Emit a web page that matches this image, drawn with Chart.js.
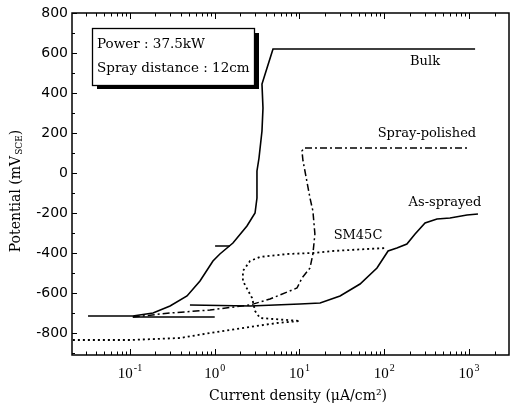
<!DOCTYPE html>
<html>
<head>
<meta charset="utf-8">
<script src="https://cdn.jsdelivr.net/npm/chart.js@4/dist/chart.umd.min.js"></script>
<style>
  html, body { margin: 0; padding: 0; background: #fff; }
  #chart { display: block; }
</style>
</head>
<body>
<canvas id="chart" width="512" height="409"></canvas>
<script>
// current density (uA/cm2) and potential (mV SCE)
const bulkI = [0.032, 0.108, 0.187, 0.297, 0.471, 0.67, 0.953, 1.15, 1.64, 2.40, 2.99, 3.15, 3.15, 3.33, 3.61, 3.71, 3.61, 4.14, 4.87, 1180];
const bulkV = [-715, -715, -700, -665, -615, -540, -440, -405, -350, -265, -200, -125, 10, 75, 210, 325, 445, 525, 620, 620];

const sprayI = [0.108, 0.297, 0.879, 2.61, 4.49, 9.35, 10.7, 13.3, 14.4, 15.2, 14.4, 13.3, 12.2, 11.6, 11.0, 10.7, 11.3, 973];
const sprayV = [-720, -700, -685, -660, -630, -575, -525, -475, -405, -305, -190, -125, -40, 10, 60, 110, 125, 125];

const asI = [0.510, 2.61, 10.1, 17.5, 30.1, 51.8, 82.1, 111, 141, 185, 231, 303, 419, 597, 947, 1276];
const asV = [-660, -665, -655, -650, -615, -555, -475, -390, -375, -355, -305, -250, -230, -225, -210, -205];

const smI = [0.0212, 0.1, 0.389, 0.879, 1.51, 2.61, 5.43, 10.1, 3.42, 2.99, 2.76, 2.15, 2.15, 2.61, 3.42, 7.13, 14.4, 24.8, 62.5, 108];
const smV = [-835, -835, -825, -800, -785, -770, -750, -740, -725, -690, -625, -540, -490, -440, -420, -405, -400, -390, -380, -375];

// stray return traces (null = gap)
const extraI = [1.0, 0.108, 1.2, 1.01, 1.51];
const extraV = [-720, -720, null, -365, -365];

const xTicks = [0.1, 1, 10, 100, 1000];
const xTickExp = ['-1', '0', '1', '2', '3'];
const yTicks = [-800, -600, -400, -200, 0, 200, 400, 600, 800];

const curveNames = ['Bulk', 'Spray-polished', 'As-sprayed', 'SM45C'];
const labelI = [303, 319, 521, 49];
const labelV = [555, 195, -150, -315];

const infoLines = ['Power : 37.5kW', 'Spray distance : 12cm'];

function pts(xs, ys) {
    return xs.map((x, i) => ({ x: x, y: ys[i] }));
}

function line(label, xs, ys, dash, width) {
    return {
        label: label,
        data: pts(xs, ys),
        showLine: true,
        borderColor: '#000',
        borderWidth: width,
        borderDash: dash,
        pointRadius: 0,
        tension: 0,
        spanGaps: false
    };
}

const decor = {
    id: 'decor',
    afterDraw(chart) {
        const ctx = chart.ctx;
        const a = chart.chartArea;
        const xs = chart.scales.x, ys = chart.scales.y;
        ctx.save();
        ctx.strokeStyle = '#000';
        ctx.fillStyle = '#000';

        // frame
        ctx.lineWidth = 1.5;
        ctx.strokeRect(a.left, a.top, a.right - a.left, a.bottom - a.top);

        // inward ticks
        ctx.lineWidth = 1;
        ctx.beginPath();
        for (let e = -2; e <= 3; e++) {
            for (let m = 1; m <= 9; m++) {
                const v = m * Math.pow(10, e);
                if (v < xs.min || v > xs.max) continue;
                const px = Math.round(xs.getPixelForValue(v)) + 0.5;
                const len = m === 1 ? 6 : 3.5;
                ctx.moveTo(px, a.bottom); ctx.lineTo(px, a.bottom - len);
                ctx.moveTo(px, a.top); ctx.lineTo(px, a.top + len);
            }
        }
        for (let v = -900; v <= 800; v += 100) {
            const py = Math.round(ys.getPixelForValue(v)) + 0.5;
            const len = v % 200 === 0 ? 5 : 3;
            ctx.moveTo(a.left, py); ctx.lineTo(a.left + len, py);
        }
        ctx.stroke();

        // x tick labels: 10 with raised exponent
        ctx.textBaseline = 'alphabetic';
        ctx.textAlign = 'left';
        xTicks.forEach((v, i) => {
            const px = xs.getPixelForValue(v);
            ctx.font = '15px "Liberation Serif"';
            const wb = ctx.measureText('10').width;
            ctx.font = '10px "Liberation Serif"';
            const we = ctx.measureText(xTickExp[i]).width;
            const x0 = px - (wb + we + 1) / 2;
            ctx.font = '15px "Liberation Serif"';
            ctx.fillText('10', x0, 378);
            ctx.font = '10px "Liberation Serif"';
            ctx.fillText(xTickExp[i], x0 + wb + 1, 371);
        });

        // info box with shadow
        ctx.fillRect(97, 33, 162, 56);
        ctx.fillStyle = '#fff';
        ctx.fillRect(92, 28, 163, 58);
        ctx.lineWidth = 1.3;
        ctx.strokeRect(92.5, 28.5, 162, 57);
        ctx.fillStyle = '#000';
        ctx.font = '13.5px "DejaVu Serif"';
        ctx.textBaseline = 'middle';
        ctx.fillText(infoLines[0], 97, 44);
        ctx.fillText(infoLines[1], 97, 68);

        // curve labels
        ctx.font = '13px "DejaVu Serif"';
        ctx.textAlign = 'center';
        curveNames.forEach((n, i) => {
            ctx.fillText(n, xs.getPixelForValue(labelI[i]), ys.getPixelForValue(labelV[i]));
        });

        // x title
        ctx.font = '14px "DejaVu Serif"';
        ctx.fillText('Current density (μA/cm²)', 298, 396);

        // y title with subscript
        const main = 'Potential (mV', sub = 'SCE', close = ')';
        ctx.font = '14px "DejaVu Serif"';
        const w1 = ctx.measureText(main).width, w3 = ctx.measureText(close).width;
        ctx.font = '9px "DejaVu Serif"';
        const w2 = ctx.measureText(sub).width + 1;
        const total = w1 + w2 + w3;
        ctx.translate(16, 191);
        ctx.rotate(-Math.PI / 2);
        ctx.textAlign = 'left';
        let x0 = -total / 2;
        ctx.font = '14px "DejaVu Serif"';
        ctx.fillText(main, x0, 0);
        ctx.font = '9px "DejaVu Serif"';
        ctx.fillText(sub, x0 + w1 + 1, 4);
        ctx.font = '14px "DejaVu Serif"';
        ctx.fillText(close, x0 + w1 + w2, 0);
        ctx.restore();
    }
};

new Chart(document.getElementById('chart'), {
    type: 'scatter',
    data: {
        datasets: [
            line(curveNames[0], bulkI, bulkV, [], 1.6),
            line(curveNames[1], sprayI, sprayV, [7, 3, 2, 3], 1.5),
            line(curveNames[2], asI, asV, [], 1.6),
            line(curveNames[3], smI, smV, [2, 3], 1.8),
            line('', extraI, extraV, [], 1.5)
        ]
    },
    options: {
        responsive: false,
        animation: false,
        devicePixelRatio: 1,
        layout: { padding: { top: 13, right: 3, left: 0, bottom: 0 } },
        plugins: { legend: { display: false }, tooltip: { enabled: false } },
        scales: {
            x: {
                type: 'logarithmic',
                min: 0.0207,
                max: 2965,
                afterBuildTicks: s => { s.ticks = xTicks.map(v => ({ value: v })); },
                afterFit: s => { s.height = 54; },
                grid: { display: false, drawTicks: false },
                border: { display: false },
                ticks: { display: false }
            },
            y: {
                min: -910,
                max: 800,
                afterBuildTicks: s => { s.ticks = yTicks.map(v => ({ value: v })); },
                afterFit: s => { s.width = 72; },
                grid: { display: false, drawTicks: false },
                border: { display: false },
                ticks: {
                    padding: 4,
                    color: '#000',
                    font: { family: 'DejaVu Sans', size: 14 },
                    callback: v => String(v)
                }
            }
        }
    },
    plugins: [decor]
});
</script>
</body>
</html>
